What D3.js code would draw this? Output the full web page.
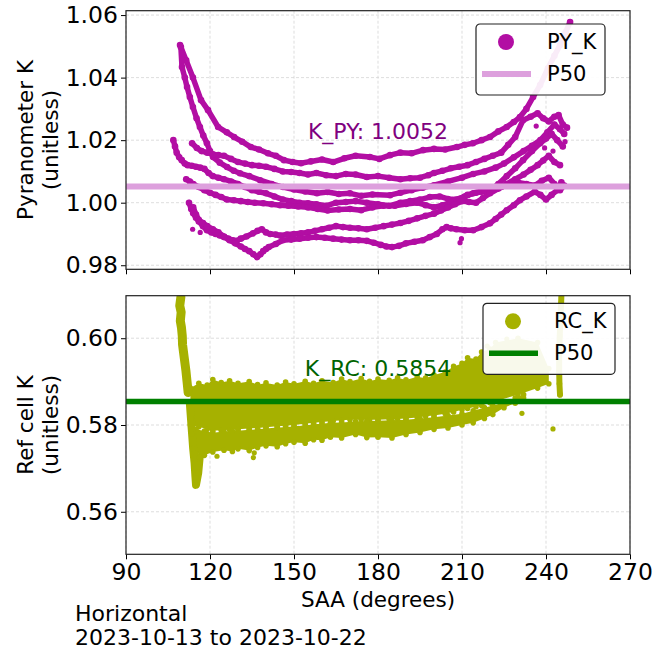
<!DOCTYPE html>
<html>
<head>
<meta charset="utf-8">
<script src="https://cdn.jsdelivr.net/npm/d3@7"></script>
<style>
  body { margin: 0; background: #fff; }
  svg { font-family: "DejaVu Sans", sans-serif; }
</style>
</head>
<body>
<svg id="chart" width="665" height="654"></svg>
<script>
// ---- data ----
const xTicks = [90, 120, 150, 180, 210, 240, 270];
const pyTicks = [0.98, 1.00, 1.02, 1.04, 1.06];
const rcTicks = [0.56, 0.58, 0.60];

const pyP50 = 1.0052;
const rcP50 = 0.5854;
const pyLabelY = 1.0205;
const rcLabelY = 0.5912;
const labelSaa = 180;

// pyranometer K, one trace per day: [SAA, K]
const pyDayA = [[109.3,1.0504],[111.5,1.0455],[113.9,1.0400],[116.8,1.0328],[119.3,1.0296],[122.9,1.0242],[126,1.0225],[128.6,1.0210],[131.5,1.0195],[134.6,1.0178],[137.5,1.0170],[140.7,1.0158],[143.5,1.0150],[146.4,1.0136],[149.5,1.0130],[152.5,1.0126],[156,1.0132],[160,1.0138],[164,1.0130],[168,1.0142],[172,1.0150],[177.1,1.0146],[180.5,1.0140],[184.3,1.0152],[188,1.0160],[192,1.0158],[196.1,1.0168],[200,1.0172],[204,1.0170],[208.2,1.0178],[211,1.0185],[213.9,1.0190],[217,1.0200],[220,1.0210],[223,1.0228],[226,1.0242],[228.5,1.0258],[230.7,1.0274],[233,1.0300],[235.4,1.0338],[237.9,1.0376],[240.7,1.0430],[243,1.0470],[245,1.0504],[247,1.0545],[248.6,1.0578]];
const pyDayB = [[109.6,1.0498],[110.0,1.0434],[111.0,1.0400],[111.8,1.0370],[112.8,1.0338],[113.9,1.0306],[115.2,1.0270],[116.4,1.0242],[117.6,1.0215],[118.9,1.0190],[120,1.0165],[121.1,1.0146],[123.5,1.0128],[126.1,1.0114],[128.5,1.0102],[130.7,1.0094],[134,1.0085],[137.9,1.0072],[142,1.0060],[146.1,1.0050],[150,1.0042],[154,1.0036],[158.2,1.0030],[162,1.0034],[166,1.0028],[170,1.0030],[174,1.0022],[178,1.0026],[184.3,1.0024],[188,1.0032],[192,1.0040],[196,1.0048],[200,1.0056],[205,1.0068],[210,1.0080],[214,1.0092],[218,1.0100],[222,1.0112],[225,1.0125],[228.5,1.0145],[232,1.0165],[235,1.0182],[238,1.0200],[240.5,1.0225],[243,1.0250],[245,1.0235],[246.5,1.0220]];
const pyDayC = [[106.9,1.0200],[107.5,1.0180],[108.1,1.0160],[109.0,1.0145],[109.9,1.0136],[111,1.0125],[112,1.0120],[113.5,1.0118],[115,1.0115],[116.5,1.0112],[118,1.0108],[119.5,1.0095],[121,1.0085],[123,1.0080],[125,1.0075],[127.5,1.0068],[130,1.0060],[132.5,1.0050],[135,1.0040],[137.5,1.0035],[140,1.0030],[143,1.0020],[146,1.0010],[149,1.0005],[152,1.0000],[155,0.9998],[158,0.9995],[161.5,0.9990],[165,1.0000],[168.5,1.0002],[172,1.0005],[176,1.0000],[180,0.9995],[184,0.9990],[188,1.0000],[191.5,1.0005],[195,1.0010],[198.5,1.0018],[202,1.0020],[205,1.0012],[208,1.0010],[211,1.0020],[214,1.0030],[217,1.0035],[220,1.0040],[223,1.0060],[226,1.0085],[229,1.0110],[231.8,1.0136],[235,1.0165],[237.9,1.0190],[240,1.0205],[242,1.0220],[244,1.0200],[246,1.0180]];
const pyDayD = [[113.6,1.0190],[115.3,1.0175],[117,1.0165],[119,1.0160],[121,1.0155],[123,1.0152],[125,1.0150],[127.5,1.0140],[130,1.0130],[132.5,1.0125],[135,1.0120],[137.5,1.0118],[140,1.0115],[143,1.0108],[146,1.0100],[149,1.0098],[152,1.0095],[155,1.0090],[158,1.0095],[161.5,1.0088],[165,1.0085],[168.5,1.0092],[172,1.0090],[176,1.0082],[180,1.0085],[184,1.0080],[188,1.0075],[191.5,1.0078],[195,1.0080],[198,1.0088],[200,1.0095],[203,1.0102],[206,1.0110],[209,1.0115],[212,1.0120],[215,1.0130],[218,1.0140],[221,1.0150],[224,1.0160],[226.5,1.0185],[229,1.0210],[231.8,1.0264],[234.5,1.0275],[237,1.0286],[239,1.0270],[241,1.0260],[243,1.0275],[244.5,1.0280],[246,1.0250],[247.5,1.0240]];
const pyDayE = [[111.5,1.0075],[112.8,1.0068],[114,1.0060],[116,1.0050],[118,1.0040],[120,1.0032],[122,1.0025],[124,1.0018],[126,1.0010],[128.5,1.0008],[131,1.0005],[133.5,1.0002],[136,1.0000],[139,0.9998],[142,0.9995],[145,0.9992],[148,0.9990],[151.5,0.9988],[155,0.9985],[158.5,0.9980],[162,0.9975],[166,0.9978],[170,0.9980],[174,0.9976],[178,0.9985],[182,0.9990],[186,0.9990],[190,0.9996],[194,1.0000],[197,0.9992],[200,0.9985],[203,0.9992],[206,1.0000],[209,1.0012],[212,1.0025],[215,1.0032],[218,1.0040],[221,1.0045],[224,1.0050],[227,1.0058],[230,1.0065],[233,1.0060],[236,1.0055],[238.5,1.0070],[241,1.0080],[243,1.0060],[245,1.0040],[246.5,1.0055]];
const pyDayF = [[112.5,1.0000],[113.3,0.9980],[114,0.9966],[115,0.9952],[116,0.9940],[117.5,0.9925],[118.9,0.9912],[120.5,0.9905],[122,0.9900],[123.5,0.9895],[125,0.9890],[126.5,0.9885],[128.2,0.9880],[129.5,0.9878],[131,0.9885],[133,0.9892],[135.4,0.9902],[137,0.9910],[138.5,0.9915],[140,0.9905],[141.5,0.9900],[143.5,0.9898],[145,0.9895],[147.5,0.9898],[150,0.9900],[152.5,0.9902],[155,0.9905],[157.5,0.9910],[160,0.9915],[162.5,0.9920],[165,0.9925],[167.5,0.9922],[170,0.9920],[173,0.9918],[176,0.9915],[179,0.9920],[182,0.9925],[185,0.9930],[188,0.9935],[191,0.9942],[194,0.9950],[197,0.9958],[200,0.9965],[202.5,0.9975],[205,0.9985],[207.5,0.9995],[210,1.0005],[212.5,1.0002],[215,1.0000],[217.5,1.0015],[220,1.0030],[223,1.0045],[226,1.0060],[229,1.0075],[232,1.0090],[234.5,1.0105],[237,1.0120],[239,1.0135],[241,1.0150],[243,1.0130],[245,1.0120]];
const pyDayG = [[114,0.9985],[115,0.9962],[116,0.9945],[117.5,0.9935],[119,0.9925],[121,0.9915],[123,0.9905],[125,0.9892],[127,0.9880],[129,0.9870],[131,0.9860],[132.5,0.9852],[134,0.9845],[135.5,0.9835],[136.8,0.9826],[138,0.9835],[139,0.9845],[140,0.9852],[141,0.9858],[143.5,0.9868],[146,0.9880],[149,0.9882],[152,0.9885],[155,0.9888],[158,0.9890],[161,0.9888],[164,0.9885],[167,0.9882],[170,0.9880],[173,0.9880],[176,0.9878],[178.5,0.9872],[181,0.9865],[183,0.9860],[185,0.9858],[187.5,0.9862],[190,0.9870],[193,0.9875],[196,0.9880],[198.5,0.9890],[201,0.9900],[203,0.9915],[204.5,0.9922],[206,0.9918],[208,0.9915],[211,0.9912],[214,0.9912],[217,0.9922],[220,0.9934],[222,0.9948],[224,0.9962],[226,0.9976],[228.5,0.9992],[230.7,1.0008],[233,1.0020],[236,1.0035],[238,1.0025],[240,1.0010],[242,1.0025],[244,1.0040],[245.5,1.0065]];
const pyStray = [[113.8,0.9915],[116.5,0.9905],[209.3,0.9872],[209.8,0.9885],[239.5,1.0175],[242.5,1.0165],[246.8,1.0195],[236.5,1.0245]];

// ref cell K: dense clouds as [SAA, upper K, lower K]
const rcUpperBand = [[113,0.5885,0.5800],[116,0.5896,0.5796],[119,0.5892,0.5790],[121,0.5905,0.5787],[124,0.5898,0.5788],[127,0.5902,0.5789],[130,0.5896,0.5790],[134,0.5900,0.5792],[137,0.5893,0.5793],[140,0.5897,0.5795],[144,0.5892,0.5797],[147,0.5899,0.5798],[150,0.5895,0.5800],[154,0.5901,0.5803],[157,0.5896,0.5805],[160,0.5902,0.5807],[164,0.5898,0.5809],[167,0.5906,0.5811],[170,0.5900,0.5812],[174,0.5907,0.5812],[177,0.5901,0.5812],[180,0.5906,0.5812],[184,0.5903,0.5813],[187,0.5909,0.5814],[190,0.5904,0.5815],[194,0.5911,0.5817],[197,0.5908,0.5820],[200,0.5915,0.5822],[204,0.5922,0.5826],[207,0.5935,0.5830],[210,0.5942,0.5835],[212,0.5955,0.5838],[215,0.5952,0.5842],[217,0.5968,0.5845],[220,0.5975,0.5851],[222,0.5990,0.5855],[230,0.6000,0.5870],[237,0.5990,0.5885],[241,0.5930,0.5895]];
const rcLowerBand = [[115,0.5790,0.5735],[118,0.5786,0.5730],[121,0.5782,0.5738],[125,0.5785,0.5742],[128,0.5786,0.5739],[130,0.5787,0.5745],[134,0.5789,0.5741],[137,0.5790,0.5748],[140,0.5792,0.5752],[144,0.5794,0.5750],[147,0.5795,0.5757],[150,0.5797,0.5760],[154,0.5799,0.5758],[157,0.5802,0.5766],[160,0.5803,0.5765],[163,0.5805,0.5772],[167,0.5806,0.5770],[172,0.5808,0.5778],[176,0.5809,0.5771],[180,0.5810,0.5772],[185,0.5811,0.5770],[190,0.5812,0.5778],[195,0.5815,0.5783],[200,0.5818,0.5790],[205,0.5822,0.5793],[210,0.5826,0.5800],[214,0.5833,0.5805],[218,0.5840,0.5815],[221,0.5845,0.5824],[225,0.5852,0.5840],[229,0.5862,0.5850],[232,0.5870,0.5862]];
// morning and evening spikes: [SAA, K]
const rcSpikeUp = [[109.6,0.6095],[109.2,0.6075],[109.7,0.6060],[109.4,0.6040],[109.8,0.6025],[110.1,0.6005],[110.2,0.5985],[110.8,0.5955],[111.4,0.5925],[111.8,0.5900],[112.2,0.5875]];
const rcSpikeDown = [[112.8,0.5850],[113.2,0.5815],[113.6,0.5780],[114.0,0.5745],[114.5,0.5712],[114.8,0.5680],[115.0,0.5662],[115.8,0.5690],[116.3,0.5725]];
const rcSpikeEve = [[245.6,0.6120],[245.4,0.6080],[245.1,0.6040],[244.9,0.6005],[244.7,0.5965],[244.7,0.5925],[244.8,0.5895],[245.0,0.5870]];
const rcStray = [[231.4,0.5827],[242.5,0.5791],[135.5,0.5725],[135.8,0.5736],[122.5,0.5728],[209.5,0.5845],[226,0.5998],[219,0.5982]];

// ---- drawing ----
const svg = d3.select("#chart");
const FONT = 21.5;
const TICK_FONT = 23.5;
const x = d3.scaleLinear().domain([90, 270]).range([126, 630]);

function drawPanel(cfg) {
  const y = d3.scaleLinear().domain(cfg.yDomain).range([cfg.bottom, cfg.top]);
  const g = svg.append("g");

  svg.append("clipPath").attr("id", cfg.id + "-clip")
    .append("rect")
    .attr("x", x.range()[0]).attr("y", cfg.top)
    .attr("width", x.range()[1] - x.range()[0])
    .attr("height", cfg.bottom - cfg.top);

  // grid
  const grid = g.append("g").attr("stroke", "#d4d4d4").attr("stroke-width", 0.8)
    .attr("stroke-dasharray", "3,2");
  grid.selectAll(".gx").data(xTicks).join("line")
    .attr("x1", d => x(d)).attr("x2", d => x(d))
    .attr("y1", cfg.top).attr("y2", cfg.bottom);
  grid.selectAll(".gy").data(cfg.ticks).join("line")
    .attr("x1", x.range()[0]).attr("x2", x.range()[1])
    .attr("y1", d => y(d)).attr("y2", d => y(d));

  const plot = g.append("g").attr("clip-path", `url(#${cfg.id}-clip)`);
  cfg.drawData(plot, y);

  // median line on top of the points
  plot.append("line")
    .attr("x1", x.range()[0]).attr("x2", x.range()[1])
    .attr("y1", y(cfg.p50)).attr("y2", y(cfg.p50))
    .attr("stroke", cfg.p50Color).attr("stroke-width", cfg.p50Width);

  g.append("text")
    .attr("x", x(labelSaa)).attr("y", y(cfg.labelY))
    .attr("text-anchor", "middle")
    .attr("font-size", 22).attr("fill", cfg.labelColor)
    .text(cfg.label);

  // axes
  const xAxis = d3.axisBottom(x).tickValues(xTicks).tickSize(5).tickSizeOuter(0).tickPadding(4);
  if (!cfg.xLabels) xAxis.tickFormat("");
  const gx = g.append("g").attr("transform", `translate(0,${cfg.bottom})`).call(xAxis);
  const yAxis = d3.axisLeft(y).tickValues(cfg.ticks).tickFormat(d3.format(".2f"))
    .tickSize(5).tickSizeOuter(0).tickPadding(3);
  const gy = g.append("g").attr("transform", `translate(${x.range()[0]},0)`).call(yAxis);
  [gx, gy].forEach(a => {
    a.select(".domain").remove();
    a.attr("font-size", TICK_FONT).attr("font-family", null);
    a.selectAll("text").attr("fill", "#000");
    a.selectAll("line").attr("stroke", "#000").attr("stroke-width", 1);
  });

  // spines
  g.append("rect")
    .attr("x", x.range()[0]).attr("y", cfg.top)
    .attr("width", x.range()[1] - x.range()[0]).attr("height", cfg.bottom - cfg.top)
    .attr("fill", "none").attr("stroke", "#222").attr("stroke-width", 1.2);

  // y label, two lines
  const yl = g.append("text")
    .attr("transform", `translate(33,${(cfg.top + cfg.bottom) / 2}) rotate(-90)`)
    .attr("text-anchor", "middle").attr("font-size", FONT);
  yl.append("tspan").attr("x", 0).attr("dy", 0).text(cfg.yLabel);
  yl.append("tspan").attr("x", 0).attr("dy", 25).text("(unitless)");

  // legend
  const L = cfg.legend;
  const lg = g.append("g").attr("transform", `translate(${L.x},${L.y})`);
  lg.append("rect").attr("width", L.w).attr("height", 71).attr("rx", 4)
    .attr("fill", "#fff").attr("fill-opacity", 0.92)
    .attr("stroke", "#222").attr("stroke-width", 1.2);
  lg.append("circle").attr("cx", 30).attr("cy", 18).attr("r", 8).attr("fill", cfg.color);
  lg.append("text").attr("x", 71).attr("y", 25).attr("font-size", 21).text(cfg.name);
  lg.append("line").attr("x1", 6).attr("x2", 55).attr("y1", 50).attr("y2", 50)
    .attr("stroke", cfg.p50Color).attr("stroke-width", cfg.p50Width);
  lg.append("text").attr("x", 71).attr("y", 57).attr("font-size", 21).text("P50");

  return y;
}

function drawTraces(plot, y, traces, color, width, r) {
  const line = d3.line().x(d => x(d[0])).y(d => y(d[1]));
  traces.forEach(t => {
    plot.append("path").datum(t)
      .attr("d", line).attr("fill", "none")
      .attr("stroke", color).attr("stroke-width", width)
      .attr("stroke-linejoin", "round").attr("stroke-linecap", "round");
    plot.append("g").selectAll("circle").data(t).join("circle")
      .attr("cx", d => x(d[0])).attr("cy", d => y(d[1])).attr("r", r)
      .attr("fill", color);
  });
}

const pyColor = "#b20ea3";
const rcColor = "#a6b100";

drawPanel({
  id: "py", top: 10.7, bottom: 269.3, yDomain: [0.9787, 1.0614], ticks: pyTicks,
  p50: pyP50, p50Color: "#dda0dd", p50Width: 6,
  label: "K_PY: 1.0052", labelY: pyLabelY, labelColor: "#800080",
  yLabel: "Pyranometer K", name: "PY_K", color: pyColor, xLabels: false,
  legend: { x: 476, y: 24, w: 129 },
  drawData: (plot, y) => {
    drawTraces(plot, y, [pyDayA, pyDayB, pyDayC, pyDayD, pyDayE, pyDayF, pyDayG], pyColor, 5.5, 3.3);
    plot.append("g").selectAll("circle").data(pyStray).join("circle")
      .attr("cx", d => x(d[0])).attr("cy", d => y(d[1])).attr("r", 2.6).attr("fill", pyColor);
  }
});

drawPanel({
  id: "rc", top: 295.7, bottom: 554.3, yDomain: [0.5502, 0.6098], ticks: rcTicks,
  p50: rcP50, p50Color: "#008000", p50Width: 5.5,
  label: "K_RC: 0.5854", labelY: rcLabelY, labelColor: "#006400",
  yLabel: "Ref cell K", name: "RC_K", color: rcColor, xLabels: true,
  legend: { x: 483, y: 303.3, w: 132 },
  drawData: (plot, y) => {
    const area = d3.area().x(d => x(d[0])).y0(d => y(d[2])).y1(d => y(d[1]));
    [rcUpperBand, rcLowerBand].forEach(b => {
      plot.append("path").datum(b).attr("d", area).attr("fill", rcColor);
      const edge = b.flatMap(d => [[d[0], d[1]], [d[0], d[2]]]);
      plot.append("g").selectAll("circle").data(edge).join("circle")
        .attr("cx", d => x(d[0])).attr("cy", d => y(d[1])).attr("r", 2.8).attr("fill", rcColor);
    });
    drawTraces(plot, y, [rcSpikeUp], rcColor, 9, 3.2);
    drawTraces(plot, y, [rcSpikeDown], rcColor, 8, 3);
    drawTraces(plot, y, [rcSpikeEve], rcColor, 6, 2.8);
    plot.append("g").selectAll("circle").data(rcStray).join("circle")
      .attr("cx", d => x(d[0])).attr("cy", d => y(d[1])).attr("r", 2.6).attr("fill", rcColor);
  }
});

// x label and footer
svg.append("text").attr("x", x(180)).attr("y", 607).attr("text-anchor", "middle")
  .attr("font-size", FONT).text("SAA (degrees)");
svg.append("text").attr("x", 75).attr("y", 621).attr("font-size", 22).text("Horizontal");
svg.append("text").attr("x", 75).attr("y", 645).attr("font-size", 22).text("2023-10-13 to 2023-10-22");
</script>
</body>
</html>
